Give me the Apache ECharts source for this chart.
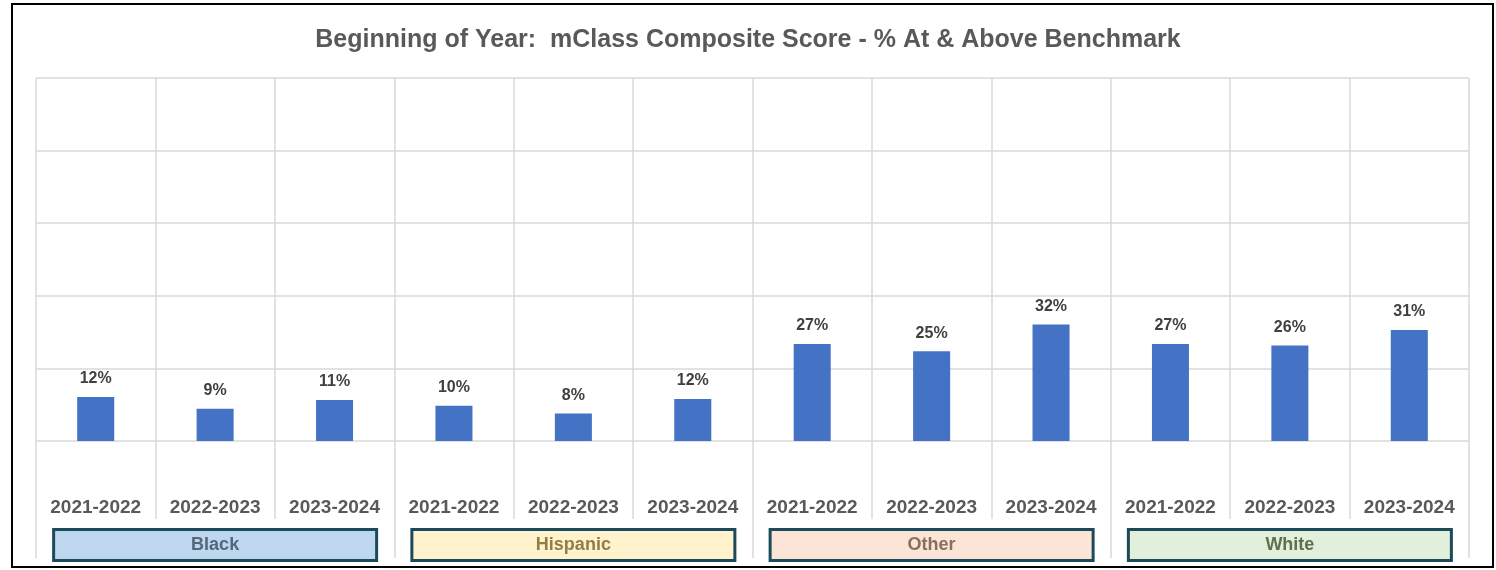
<!DOCTYPE html>
<html>
<head>
<meta charset="utf-8">
<script src="https://cdn.jsdelivr.net/npm/echarts@6/dist/echarts.min.js"></script>
<style>
  html, body { margin: 0; padding: 0; background: #fff; }
  #main { width: 1496px; height: 570px; }
</style>
</head>
<body>
<div id="main"></div>
<script>
// school years repeat once per group
var years = ['2021-2022', '2022-2023', '2023-2024',
             '2021-2022', '2022-2023', '2023-2024',
             '2021-2022', '2022-2023', '2023-2024',
             '2021-2022', '2022-2023', '2023-2024'];
var groups = ['Black', 'Hispanic', 'Other', 'White'];
// % at & above benchmark (labels show rounded value)
var pctValues = [12.1, 8.9, 11.3, 9.7, 7.6, 11.6, 26.7, 24.7, 32.1, 26.7, 26.3, 30.6];
var yTicks = [0, 20, 40, 60, 80, 100];

// box colours for the group labels
var groupFill = ['#BDD7EE', '#FFF2CC', '#FCE4D6', '#E2EFDA'];
var groupText = ['#56657a', '#8f7f45', '#8a6e5e', '#5f7050'];

var rich = {};
groups.forEach(function (g, i) {
    rich['g' + i] = {
        width: 320,
        height: 28,
        lineHeight: 28,
        align: 'center',
        backgroundColor: groupFill[i],
        borderColor: '#1B4A5C',
        borderWidth: 3,
        color: groupText[i],
        fontSize: 18,
        fontWeight: 'bold',
        fontFamily: 'Liberation Sans'
    };
});

var chart = echarts.init(document.getElementById('main'));
chart.setOption({
    animation: false,
    textStyle: { fontFamily: 'Liberation Sans' },
    title: {
        text: 'Beginning of Year:  mClass Composite Score - % At & Above Benchmark',
        left: 'center',
        top: 23,
        textStyle: { fontSize: 25, fontWeight: 'bold', color: '#595959' }
    },
    graphic: [{
        type: 'rect',
        shape: { x: 12, y: 4, width: 1481, height: 563 },
        style: { fill: 'none', stroke: '#000', lineWidth: 2 },
        silent: true
    }],
    grid: { left: 36, right: 27, top: 78, bottom: 129 },
    xAxis: [
        {
            type: 'category',
            data: years,
            axisLine: { show: false },
            axisTick: { show: true, interval: 0, length: 78,
                        lineStyle: { color: '#d9d9d9', width: 1.5 } },
            splitLine: { show: true, interval: 0,
                         lineStyle: { color: '#d9d9d9', width: 1.5 } },
            axisLabel: { interval: 0, margin: 57, fontSize: 19, fontWeight: 'bold', color: '#595959' }
        },
        {
            type: 'category',
            data: groups,
            position: 'bottom',
            axisLine: { show: false },
            axisTick: { show: true, interval: 0, length: 117,
                        lineStyle: { color: '#d9d9d9', width: 1.5 } },
            splitLine: { show: false },
            axisLabel: {
                interval: 0,
                margin: 90,
                formatter: function (v) {
                    return '{g' + groups.indexOf(v) + '|' + v + '}';
                },
                rich: rich
            }
        }
    ],
    yAxis: {
        type: 'value',
        min: yTicks[0],
        max: yTicks[yTicks.length - 1],
        interval: 20,
        axisLine: { show: false },
        axisTick: { show: false },
        axisLabel: { show: false },
        splitLine: { lineStyle: { color: '#d9d9d9', width: 1.5 } }
    },
    series: [{
        type: 'bar',
        xAxisIndex: 0,
        data: pctValues,
        barWidth: '31%',
        itemStyle: { color: '#4472C4' },
        label: {
            show: true,
            position: 'top',
            distance: 10,
            fontSize: 16,
            fontWeight: 'bold',
            color: '#404040',
            formatter: function (p) { return Math.round(p.value) + '%'; }
        }
    }]
});
</script>
</body>
</html>
